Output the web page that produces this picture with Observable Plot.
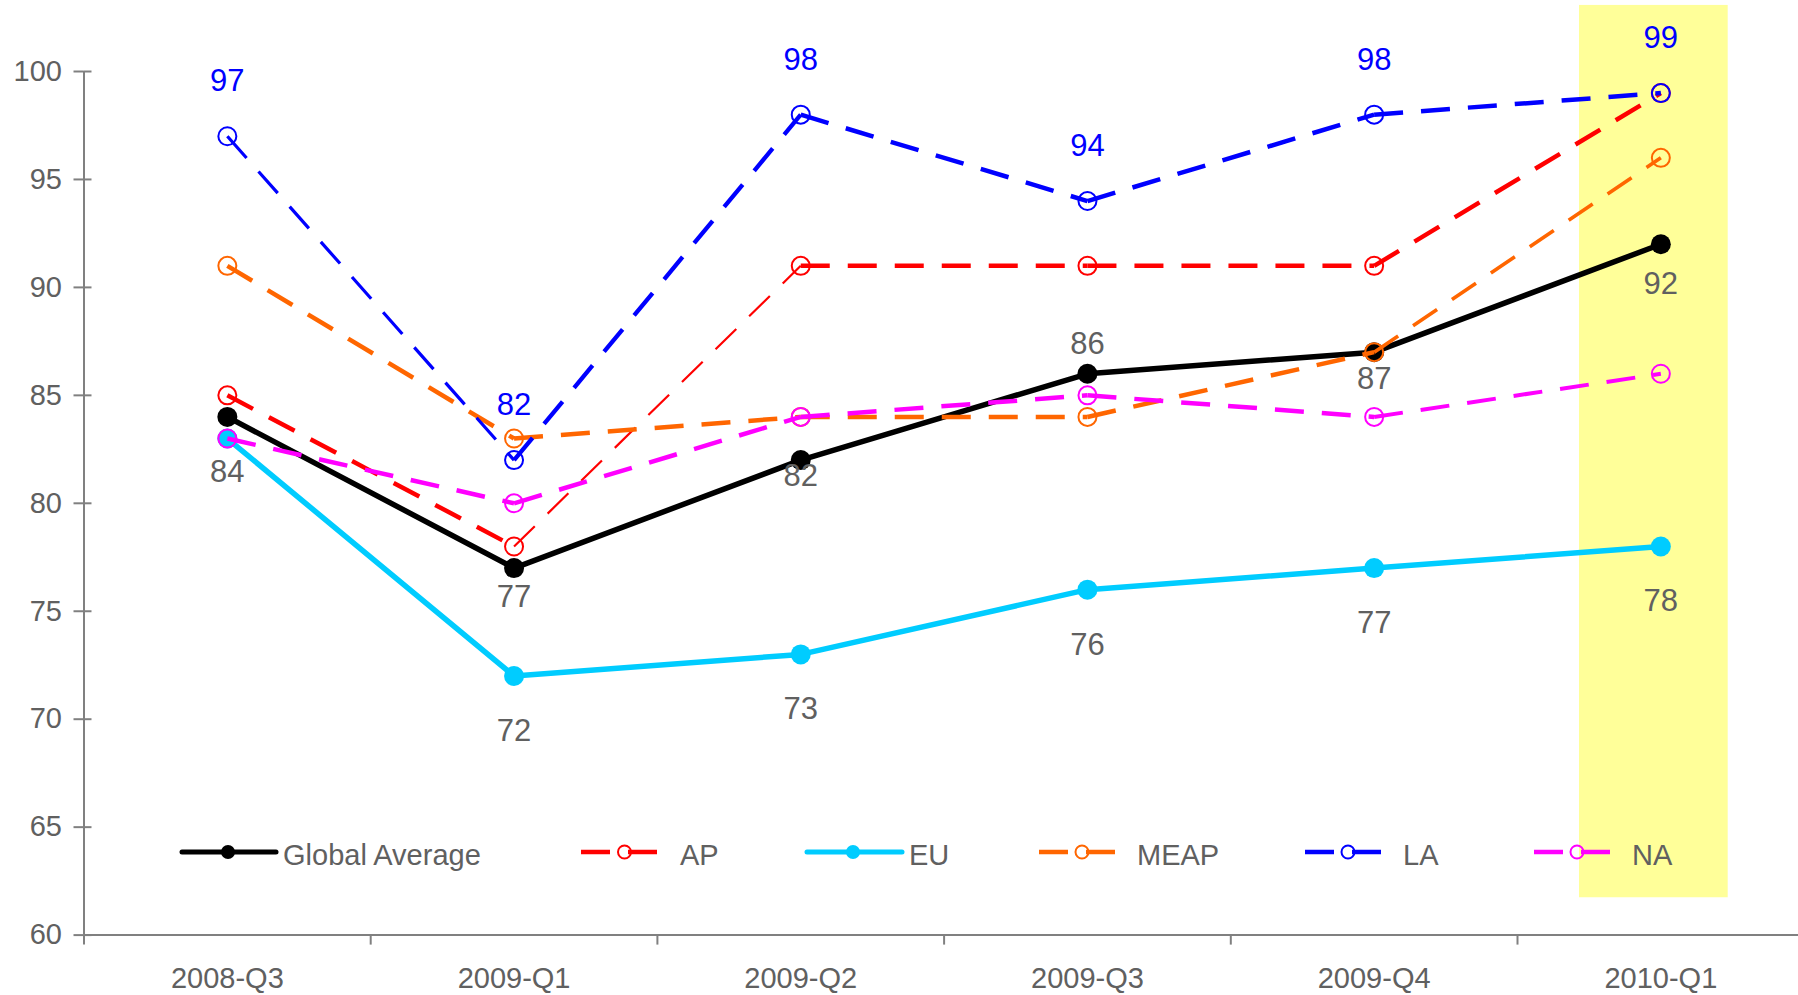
<!DOCTYPE html>
<html>
<head>
<meta charset="utf-8">
<script src="https://cdn.jsdelivr.net/npm/d3@7"></script>
<script src="https://cdn.jsdelivr.net/npm/@observablehq/plot@0.6"></script>
<style>
  html, body { margin: 0; padding: 0; background: #ffffff; }
  #wrap { position: relative; width: 1798px; height: 995px; font-family: "Liberation Sans", Arial, sans-serif; }
  #legend { position: absolute; left: 0; top: 0; pointer-events: none; }
</style>
</head>
<body>
<div id="wrap"></div>
<script>
// ---------- data ----------
const quarters = ["2008-Q3", "2009-Q1", "2009-Q2", "2009-Q3", "2009-Q4", "2010-Q1"];
const globalAverage = [84, 77, 82, 86, 87, 92];
const ap   = [85, 78, 91, 91, 91, 99];
const eu   = [83, 72, 73, 76, 77, 78];
const meap = [91, 83, 84, 84, 87, 96];
const la   = [97, 82, 98, 94, 98, 99];
const na   = [83, 80, 84, 85, 84, 86];
const seriesNames = ["Global Average", "AP", "EU", "MEAP", "LA", "NA"];
const yTicks = [60, 65, 70, 75, 80, 85, 90, 95, 100];
const highlightQuarter = "2010-Q1";

// ---------- styles ----------
const seriesValues = [globalAverage, ap, eu, meap, la, na];
const seriesColors = ["#000000", "#FF0000", "#00CCFF", "#FF6600", "#0000FF", "#FF00FF"];
const seriesDashed = [false, true, false, true, true, true];
// stroke width of each segment (the source rendering thins some steep segments)
const segmentWidths = [
  [5.5, 5.5, 5.5, 5.5, 5.5],
  [4.5, 2.2, 4.5, 4.5, 4.5],
  [5.5, 5.5, 5.5, 5.5, 5.5],
  [4.5, 4.5, 4.5, 4.5, 3.6],
  [3.2, 4.3, 4.5, 4.5, 4.5],
  [4.5, 4.5, 4.5, 4.5, 4.0]
];
const DASH = "29,18";
const GRAY_TEXT = "#606060";
const AXIS = "#808080";
const FONT = "'Liberation Sans', Arial, sans-serif";
// label vertical offsets (px) for the Global Average labels
const globalLabelDy = [55, 29, 16, -30, 27, 40];

const W = 1798, H = 995;
const mLeft = 83.5, mTop = 71, mBottom = 60.4;
const step = 286.7;

const rowsOf = (k) => seriesValues[k].map((v, i) => ({series: seriesNames[k], i, value: v}));
const segmentsOf = (k) => d3.pairs(rowsOf(k)).map(([a, b], j) => ({a, b, w: segmentWidths[k][j]}));

const marks = [];

// highlight band for the latest quarter
const hi = quarters.indexOf(highlightQuarter);
marks.push(Plot.rect([hi], {
  x1: d => d - 0.5, x2: d => d + 0.5,
  y1: () => 61.73, y2: () => 103.06,
  insetLeft: 62, insetRight: 76,
  fill: "#FFFF99"
}));

// axes
marks.push(Plot.ruleY([60], {stroke: AXIS, strokeWidth: 2}));
marks.push(Plot.ruleX([-0.5], {y1: 60, y2: 100, stroke: AXIS, strokeWidth: 2}));
marks.push(Plot.axisY({
  ticks: yTicks, tickSize: 10, tickPadding: 12, label: null,
  stroke: AXIS, strokeWidth: 2, fill: GRAY_TEXT, fontSize: 29
}));
marks.push(Plot.tickY(yTicks, {y: d => d, stroke: AXIS, strokeWidth: 2, insetRight: (W - mLeft) - 8}));
marks.push(Plot.axisX({
  ticks: d3.range(-0.5, 6, 1), tickSize: 10, tickFormat: () => "", label: null,
  stroke: AXIS, strokeWidth: 2
}));
marks.push(Plot.axisX({
  ticks: d3.range(quarters.length), tickSize: 0, tickPadding: 32, label: null,
  tickFormat: i => quarters[i], fill: GRAY_TEXT, fontSize: 29
}));

// series
seriesNames.forEach((name, k) => {
  const rows = rowsOf(k);
  const dashed = seriesDashed[k];
  marks.push(Plot.link(segmentsOf(k), {
    x1: d => d.a.i, y1: d => d.a.value, x2: d => d.b.i, y2: d => d.b.value,
    stroke: seriesColors[k],
    strokeWidth: d => d.w,
    strokeDasharray: dashed ? DASH : null,
    strokeLinecap: dashed ? "butt" : "round"
  }));
  if (dashed) {
    marks.push(Plot.dot(rows, {x: "i", y: "value", r: 9, fill: "none", stroke: seriesColors[k], strokeWidth: 2}));
  } else {
    marks.push(Plot.dot(rows, {x: "i", y: "value", r: 10, fill: seriesColors[k], stroke: null}));
  }
});

// data labels
const gRows = rowsOf(0);
gRows.forEach((r, i) => {
  marks.push(Plot.text([r], {x: "i", y: "value", text: d => String(d.value), dy: globalLabelDy[i], fill: GRAY_TEXT, fontSize: 31}));
});
marks.push(Plot.text(rowsOf(2).slice(1), {x: "i", y: "value", text: d => String(d.value), dy: 55, fill: GRAY_TEXT, fontSize: 31}));
marks.push(Plot.text(rowsOf(4), {x: "i", y: "value", text: d => String(d.value), dy: -55, fill: "#0000FF", fontSize: 31}));

const chart = Plot.plot({
  width: W, height: H,
  marginLeft: mLeft, marginRight: 0, marginTop: mTop, marginBottom: mBottom,
  style: {fontFamily: FONT, fontSize: "29px", background: "transparent", overflow: "visible"},
  x: {type: "linear", domain: [-0.5, 5.5], range: [mLeft, mLeft + 6 * step], axis: null},
  y: {domain: [60, 100], axis: null},
  marks
});
const wrap = document.getElementById("wrap");
wrap.appendChild(chart);

// ---------- legend (overlay inside the plot area) ----------
const legendLayout = [
  {x0: 182, x1: 276, m: 228, t: 283},
  {x0: 581, x1: 658, m: 624.5, t: 680},
  {x0: 807, x1: 902, m: 853, t: 909},
  {x0: 1039, x1: 1115, m: 1082, t: 1137},
  {x0: 1305, x1: 1381, m: 1348, t: 1403},
  {x0: 1534, x1: 1610, m: 1577, t: 1632}
];
const ly = 852;
const lg = d3.create("svg").attr("id", "legend").attr("width", W).attr("height", H);
seriesNames.forEach((name, k) => {
  const L = legendLayout[k];
  const dashed = seriesDashed[k];
  const g = lg.append("g");
  g.append("line").attr("x1", L.x0).attr("x2", L.x1).attr("y1", ly).attr("y2", ly)
    .attr("stroke", seriesColors[k]).attr("stroke-width", dashed ? 4.7 : 5)
    .attr("stroke-dasharray", dashed ? DASH : null)
    .attr("stroke-linecap", dashed ? "butt" : "round");
  if (dashed) {
    g.append("circle").attr("cx", L.m).attr("cy", ly).attr("r", 6.5)
      .attr("fill", "none").attr("stroke", seriesColors[k]).attr("stroke-width", 2);
  } else {
    g.append("circle").attr("cx", L.m).attr("cy", ly).attr("r", 7).attr("fill", seriesColors[k]);
  }
  g.append("text").attr("x", L.t).attr("y", ly + 13).attr("fill", GRAY_TEXT)
    .attr("font-family", FONT).attr("font-size", 29).text(name);
});
wrap.appendChild(lg.node());
</script>
</body>
</html>
